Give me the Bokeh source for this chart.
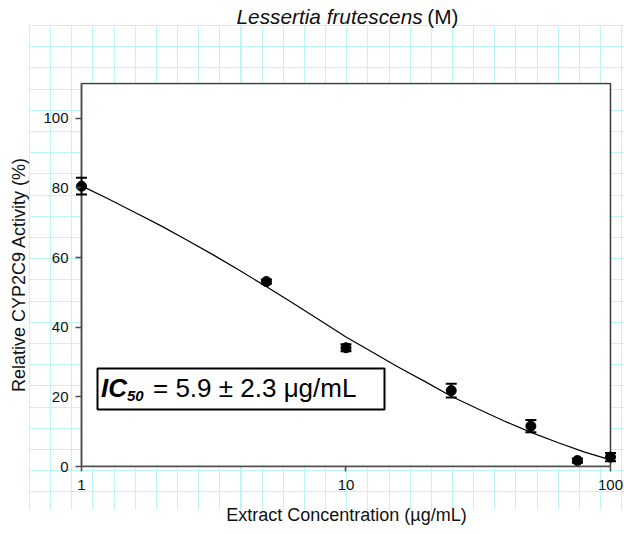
from bokeh.plotting import figure
from bokeh.layouts import column
from bokeh.models import (Range1d, FixedTicker, Whisker, TeeHead, ColumnDataSource,
                          Label, BoxAnnotation)
from bokeh.embed import file_html
from bokeh.resources import INLINE

# ---- data ----
conc = [1, 5, 10, 25, 50, 75, 100]
activity = [80.5, 53.1, 34.1, 21.8, 11.6, 1.7, 2.7]
sd = [2.4, 0.6, 1.0, 2.0, 1.75, 0.6, 1.2]

fit_conc = [1.0, 1.26, 1.58, 2.0, 2.51, 3.16, 3.98, 5.01, 6.31, 7.94, 10.0,
            12.6, 15.8, 20.0, 25.1, 31.6, 39.8, 50.1, 63.1, 79.4, 100.0]
fit_activity = [80.6, 76.9, 73.1, 69.1, 65.0, 60.7, 56.2, 51.6, 46.9, 42.1, 37.2,
                32.8, 28.5, 24.3, 20.1, 16.5, 13.0, 9.8, 6.9, 4.2, 1.9]

x_ticks = [1, 10, 100]
x_tick_labels = ["1", "10", "100"]
y_ticks = [0, 20, 40, 60, 80, 100]
x_min, x_max = 1, 100
y_min, y_max = 0, 110

title_italic = "Lessertia frutescens"
title_plain = "(M)"
x_title = "Extract Concentration (\u00b5g/mL)"
y_title = "Relative CYP2C9 Activity (%)"
ic_main = "IC"
ic_sub = "50"
ic_rest = "= 5.9 \u00b1 2.3 \u03bcg/mL"

FONT = "Liberation Sans"
GRID = "#bdf6f6"
AXIS = "#4d4d4d"

# ---- title strip ----
top = figure(width=624, height=82, x_range=Range1d(0, 1), y_range=Range1d(0, 1),
             output_backend="svg", toolbar_location=None, title=None,
             x_axis_location=None, y_axis_location=None,
             min_border_left=0, min_border_right=0,
             min_border_top=0, min_border_bottom=0)
top.border_fill_color = None
top.background_fill_color = None
top.outline_line_color = None
top.xgrid.visible = False
top.ygrid.visible = False
top.add_layout(Label(x=161, y=66, x_units="screen", y_units="screen",
                     text=title_italic, text_font=FONT, text_font_size="20.8px",
                     text_font_style="italic", text_baseline="alphabetic",
                     text_align="left", text_color="#111111"))
top.add_layout(Label(x=383, y=66, x_units="screen", y_units="screen",
                     text=title_plain, text_font=FONT, text_font_size="20.8px",
                     text_font_style="normal", text_baseline="alphabetic",
                     text_align="right", text_color="#111111"))

# ---- main chart; frame spans a little beyond the plotting box so end markers are whole ----
p = figure(width=624, height=452, x_axis_type="log",
           x_range=Range1d(0.949, 106.3), y_range=Range1d(0, 110.28),
           output_backend="svg", toolbar_location=None, title=None,
           min_border_left=75, min_border_right=7,
           min_border_top=0, min_border_bottom=68)
p.border_fill_color = None
p.background_fill_color = None
p.outline_line_color = None
p.xgrid.visible = False
p.ygrid.visible = False

# white plotting box with dark border
p.quad(left=[x_min], right=[x_max], bottom=[y_min], top=[y_max],
       fill_color="white", line_color="#3a3a3a", line_width=1.5)
# left edge of the box acts as the y axis line
p.segment(x0=[x_min], y0=[y_min], x1=[x_min], y1=[y_max],
          line_color=AXIS, line_width=1.5)

for ax in (p.xaxis[0], p.yaxis[0]):
    ax.axis_line_color = AXIS
    ax.axis_line_width = 1.5
    ax.major_tick_line_color = AXIS
    ax.major_tick_line_width = 1.5
    ax.minor_tick_line_color = None
    ax.major_label_text_font = FONT
    ax.major_label_text_font_size = "15px"
    ax.major_label_text_color = "#111111"
    ax.axis_label_text_font = FONT
    ax.axis_label_text_font_size = "18px"
    ax.axis_label_text_font_style = "normal"
    ax.axis_label_text_color = "#111111"

p.xaxis.ticker = FixedTicker(ticks=x_ticks, minor_ticks=[])
p.xaxis.major_label_overrides = {t: l for t, l in zip(x_ticks, x_tick_labels)}
p.xaxis.major_tick_out = 5
p.xaxis.major_tick_in = 0
p.xaxis.major_label_standoff = 8
p.xaxis.axis_label = x_title
p.xaxis.axis_label_standoff = 12
p.xaxis.bounds = (x_min, x_max)

# y axis sits at the frame edge; its ticks reach the box edge
p.yaxis.ticker = FixedTicker(ticks=y_ticks, minor_ticks=[])
p.yaxis.axis_line_color = None
p.yaxis.major_tick_out = 0
p.yaxis.major_tick_in = 6
p.yaxis.major_label_standoff = 7
p.yaxis.axis_label = y_title
p.yaxis.axis_label_standoff = 11

# fitted curve
p.line(fit_conc, fit_activity, line_color="black", line_width=1.2)

# points
src = ColumnDataSource(dict(
    x=conc, y=activity,
    upper=[a + s for a, s in zip(activity, sd)],
    lower=[a - s for a, s in zip(activity, sd)],
))
p.scatter("x", "y", source=src, size=10, marker="circle",
          fill_color="black", line_color="black")

# error bars
wh = Whisker(base="x", upper="upper", lower="lower", source=src,
             dimension="height", line_color="black", line_width=1.5,
             level="annotation",
             upper_head=TeeHead(size=11, line_width=2, line_color="black"),
             lower_head=TeeHead(size=11, line_width=2, line_color="black"))
p.add_layout(wh)

# IC50 box (screen units: from frame left / frame bottom)
box = BoxAnnotation(left=22, right=309, top=98, bottom=57,
                    left_units="screen", right_units="screen",
                    top_units="screen", bottom_units="screen",
                    fill_color="white", fill_alpha=1.0,
                    line_color="black", line_alpha=1.0, line_width=2)
p.add_layout(box)

p.add_layout(Label(x=25.5, y=78.5, x_units="screen", y_units="screen",
                   text=ic_main, text_font=FONT, text_font_size="26px",
                   text_font_style="bold italic", text_baseline="alphabetic",
                   text_align="left", text_color="black"))
p.add_layout(Label(x=51.5, y=71, x_units="screen", y_units="screen",
                   text=ic_sub, text_font=FONT, text_font_size="15px",
                   text_font_style="bold italic", text_baseline="alphabetic",
                   text_align="left", text_color="black"))
p.add_layout(Label(x=77.5, y=78.5, x_units="screen", y_units="screen",
                   text=ic_rest, text_font=FONT, text_font_size="26px",
                   text_font_style="normal", text_baseline="alphabetic",
                   text_align="left", text_color="black"))

layout = column(top, p, spacing=0)
layout.styles = {
    "background-color": "#ffffff",
    "background-image": (
        f"repeating-linear-gradient(to right, {GRID} 0px, {GRID} 1px, transparent 1px, transparent 21.15px),"
        f"repeating-linear-gradient(to bottom, {GRID} 0px, {GRID} 1px, transparent 1px, transparent 21.2px)"
    ),
    "background-size": "595px 485px",
    "background-position": "29px 25px",
    "background-repeat": "no-repeat",
}

open("out.html", "w").write(file_html(layout, INLINE))
